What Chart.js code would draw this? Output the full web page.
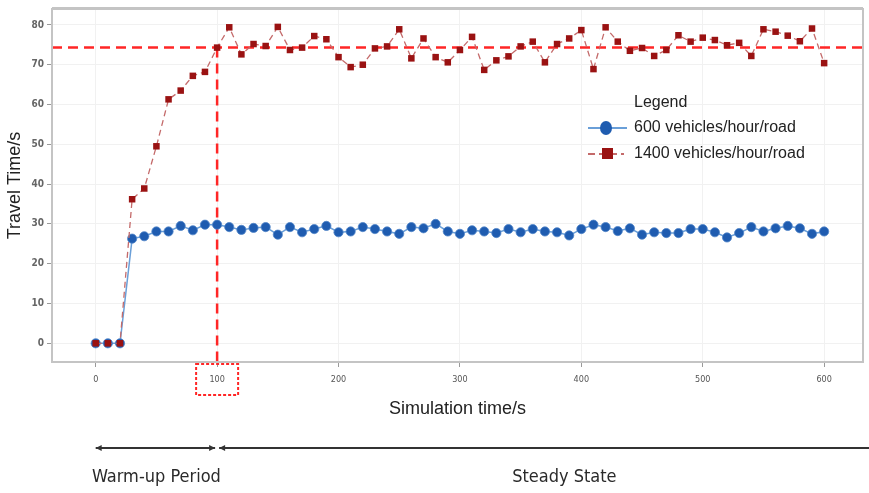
<!DOCTYPE html>
<html>
<head>
<meta charset="utf-8">
<title>Travel time vs simulation time</title>
<script src="https://cdn.jsdelivr.net/npm/chart.js@4.4.1/dist/chart.umd.min.js"></script>
<style>
  html, body { margin: 0; padding: 0; background: #fff; }
  #wrap { width: 869px; height: 493px; position: relative; }
</style>
</head>
<body>
<div id="wrap"><canvas id="travel-chart"></canvas></div>
<script>
// simulation time (s), sampled every 10 s
const times = [0, 10, 20, 30, 40, 50, 60, 70, 80, 90, 100,
    110, 120, 130, 140, 150, 160, 170, 180, 190, 200,
    210, 220, 230, 240, 250, 260, 270, 280, 290, 300,
    310, 320, 330, 340, 350, 360, 370, 380, 390, 400,
    410, 420, 430, 440, 450, 460, 470, 480, 490, 500,
    510, 520, 530, 540, 550, 560, 570, 580, 590, 600];

// average travel time (s), 600 vehicles/hour/road
const travel600 = [0, 0, 0, 26.3, 26.9, 28.1, 28.1, 29.5, 28.4, 29.8, 29.8,
    29.2, 28.5, 29.0, 29.2, 27.3, 29.2, 27.9, 28.7, 29.5, 27.9,
    28.1, 29.2, 28.7, 28.1, 27.5, 29.2, 28.9, 30.0, 28.1, 27.5,
    28.4, 28.1, 27.7, 28.7, 27.9, 28.7, 28.1, 27.9, 27.1, 28.7,
    29.8, 29.2, 28.2, 28.9, 27.3, 27.9, 27.7, 27.7, 28.7, 28.7,
    27.9, 26.6, 27.7, 29.2, 28.1, 28.9, 29.5, 28.9, 27.5, 28.1];

// average travel time (s), 1400 vehicles/hour/road
const travel1400 = [0, 0, 0, 36.2, 38.9, 49.5, 61.3, 63.5, 67.2, 68.2, 74.3,
    79.4, 72.6, 75.2, 74.7, 79.5, 73.7, 74.3, 77.2, 76.4, 71.9,
    69.4, 70.0, 74.1, 74.6, 78.9, 71.6, 76.6, 71.9, 70.6, 73.7,
    77.0, 68.7, 71.1, 72.1, 74.6, 75.8, 70.6, 75.2, 76.6, 78.7,
    68.9, 79.4, 75.8, 73.5, 74.2, 72.2, 73.7, 77.4, 75.8, 76.8,
    76.2, 74.9, 75.5, 72.2, 78.9, 78.3, 77.3, 75.9, 79.1, 70.4];

const seriesNames = ['600 vehicles/hour/road', '1400 vehicles/hour/road'];
const xTicks = [0, 100, 200, 300, 400, 500, 600];
const yTicks = [0, 10, 20, 30, 40, 50, 60, 70, 80];

// steady-state level and the end of the warm-up period
const steadyLevel = 74.3;
const warmupEnd = 100;
const warmupLabelAt = 50;
const steadyLabelAt = 386;

const BLUE = '#1f5cb0';
const BLUE_LINE = '#6a9fd8';
const RED = '#9a1212';
const RED_LINE = '#c46a6a';
const GUIDE = '#ff2626';
const TEXT_FONT = "'Liberation Sans', Arial, sans-serif";
const TICK_FONT = "'DejaVu Sans Condensed', 'Liberation Sans Narrow', 'DejaVu Sans', sans-serif";
const NOTE_FONT = "'Liberation Sans Narrow', 'DejaVu Sans Condensed', Arial, sans-serif";

const toPoints = vals => times.map((t, i) => ({ x: t, y: vals[i] }));

// frame, guide lines, legend and the warm-up / steady-state notes
const extras = {
    id: 'extras',
    beforeDatasetsDraw(chart) {
        const { ctx, chartArea: a, scales: { x, y } } = chart;
        const ly = y.getPixelForValue(steadyLevel);
        const lx = x.getPixelForValue(warmupEnd);
        ctx.save();
        ctx.strokeStyle = GUIDE;
        ctx.lineWidth = 2.5;
        ctx.setLineDash([10, 6]);
        ctx.beginPath();
        ctx.moveTo(a.left, ly);
        ctx.lineTo(a.right, ly);
        ctx.stroke();
        ctx.beginPath();
        ctx.moveTo(lx, ly);
        ctx.lineTo(lx, a.bottom);
        ctx.stroke();
        ctx.restore();
    },
    afterDraw(chart) {
        const { ctx, chartArea: a, scales: { x } } = chart;
        ctx.save();

        // plot frame, heavier along the top
        ctx.strokeStyle = '#c4c4c4';
        ctx.lineWidth = 2;
        ctx.strokeRect(a.left, a.top, a.right - a.left, a.bottom - a.top);
        ctx.beginPath();
        ctx.moveTo(a.left, a.top - 1);
        ctx.lineTo(a.right, a.top - 1);
        ctx.stroke();

        // dotted box round the 100 tick label
        const lx = x.getPixelForValue(warmupEnd);
        ctx.strokeStyle = GUIDE;
        ctx.lineWidth = 2;
        ctx.setLineDash([3, 2]);
        ctx.strokeRect(lx - 21, a.bottom + 2, 42, 31);
        ctx.setLineDash([]);

        // legend
        const legX = 634;
        ctx.fillStyle = '#222';
        ctx.font = '16px ' + TEXT_FONT;
        ctx.textBaseline = 'middle';
        ctx.textAlign = 'left';
        ctx.fillText('Legend', legX, 103);
        ctx.fillText(seriesNames[0], legX, 128);
        ctx.fillText(seriesNames[1], legX, 154);

        ctx.lineWidth = 2;
        ctx.strokeStyle = BLUE_LINE;
        ctx.beginPath();
        ctx.moveTo(588, 128);
        ctx.lineTo(627, 128);
        ctx.stroke();
        ctx.fillStyle = BLUE;
        ctx.beginPath();
        ctx.ellipse(606, 128, 6, 7, 0, 0, Math.PI * 2);
        ctx.fill();

        ctx.strokeStyle = RED_LINE;
        ctx.setLineDash([7, 4]);
        ctx.beginPath();
        ctx.moveTo(588, 154);
        ctx.lineTo(624, 154);
        ctx.stroke();
        ctx.setLineDash([]);
        ctx.fillStyle = RED;
        ctx.fillRect(602, 148, 11, 11);

        // warm-up / steady-state arrows
        const x0 = x.getPixelForValue(0);
        const arrowY = 448;
        const head = (px, dir) => {
            ctx.beginPath();
            ctx.moveTo(px, arrowY);
            ctx.lineTo(px - dir * 6, arrowY - 3);
            ctx.lineTo(px - dir * 6, arrowY + 3);
            ctx.closePath();
            ctx.fill();
        };
        ctx.strokeStyle = '#333';
        ctx.fillStyle = '#333';
        ctx.lineWidth = 2;
        ctx.beginPath();
        ctx.moveTo(x0, arrowY);
        ctx.lineTo(lx - 2, arrowY);
        ctx.moveTo(lx + 2, arrowY);
        ctx.lineTo(chart.width, arrowY);
        ctx.stroke();
        head(x0, -1);
        head(lx - 2, 1);
        head(lx + 2, -1);

        ctx.fillStyle = '#2a2a2a';
        ctx.font = '18px ' + NOTE_FONT;
        ctx.textAlign = 'center';
        ctx.fillText('Warm-up Period', x.getPixelForValue(warmupLabelAt), 477);
        ctx.fillText('Steady State', x.getPixelForValue(steadyLabelAt), 477);
        ctx.restore();
    }
};

new Chart(document.getElementById('travel-chart'), {
    type: 'line',
    data: {
        datasets: [{
            label: seriesNames[0],
            data: toPoints(travel600),
            borderColor: BLUE_LINE,
            borderWidth: 1.5,
            pointStyle: 'circle',
            pointRadius: 4.6,
            pointBackgroundColor: BLUE,
            pointBorderColor: '#4f84c8',
            pointBorderWidth: 0.8,
            tension: 0,
            order: 2
        }, {
            label: seriesNames[1],
            data: toPoints(travel1400),
            borderColor: RED_LINE,
            borderWidth: 1.3,
            borderDash: [6, 4],
            pointStyle: 'rect',
            pointRadius: 4.6,
            pointBackgroundColor: RED,
            pointBorderColor: RED,
            pointBorderWidth: 0,
            tension: 0,
            order: 1
        }]
    },
    options: {
        responsive: true,
        maintainAspectRatio: false,
        animation: false,
        layout: { padding: { top: 5, right: 6, bottom: 71, left: 0 } },
        plugins: {
            legend: { display: false },
            tooltip: { enabled: false }
        },
        scales: {
            x: {
                type: 'linear',
                min: -36,
                max: 632,
                afterBuildTicks: scale => { scale.ticks = xTicks.map(v => ({ value: v })); },
                afterFit: scale => { scale.height = 60; },
                grid: { color: '#f1f1f1', tickColor: '#9a9a9a', tickLength: 5 },
                border: { color: '#c4c4c4', width: 2 },
                ticks: {
                    padding: 7,
                    maxRotation: 0,
                    color: '#555',
                    font: { family: TICK_FONT, size: 9 }
                },
                title: {
                    display: true,
                    text: 'Simulation time/s',
                    color: '#222',
                    font: { family: TEXT_FONT, size: 18 },
                    padding: { top: 0, bottom: 2 }
                }
            },
            y: {
                min: -4.7,
                max: 84,
                afterBuildTicks: scale => { scale.ticks = yTicks.map(v => ({ value: v })); },
                afterFit: scale => { scale.width = 52; },
                grid: { color: '#f1f1f1', tickColor: '#9a9a9a', tickLength: 5 },
                border: { color: '#c4c4c4', width: 2 },
                ticks: {
                    padding: 3,
                    color: '#666',
                    font: { family: TICK_FONT, size: 10, weight: 'bold' }
                },
                title: {
                    display: true,
                    text: 'Travel Time/s',
                    color: '#222',
                    font: { family: TEXT_FONT, size: 18 },
                    padding: { top: 4, bottom: 0 }
                }
            }
        }
    },
    plugins: [extras]
});
</script>
</body>
</html>
